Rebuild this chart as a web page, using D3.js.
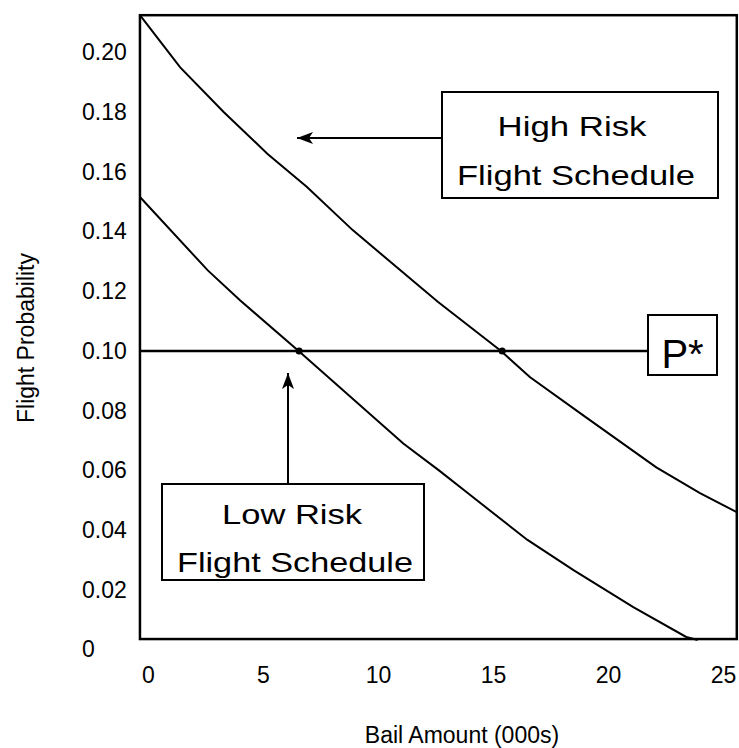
<!DOCTYPE html>
<html>
<head>
<meta charset="utf-8">
<script src="https://cdn.jsdelivr.net/npm/d3@7"></script>
<style>
  body { margin: 0; background: #fff; }
  svg { font-family: "Liberation Sans", Arial, sans-serif; }
</style>
</head>
<body>
<div id="chart"></div>
<script>
// Values
var highX = [-0.35, 1.4, 3.3, 5.2, 6.9, 8.9, 12.6, 15.35, 16.6, 19.0, 22.1, 24.0, 25.6];
var highY = [0.2125, 0.195, 0.180, 0.166, 0.155, 0.1405, 0.1165, 0.100, 0.0913, 0.078, 0.061, 0.0524, 0.046];
var lowX = [-0.35, 2.6, 4.0, 6.55, 11.1, 12.65, 13.9, 16.5, 18.5, 21.1, 23.4, 23.9];
var lowY = [0.1516, 0.127, 0.117, 0.100, 0.069, 0.060, 0.0524, 0.0367, 0.0266, 0.0142, 0.0042, 0.0032];
var pStar = 0.10;
var crossX = [6.57, 15.4];
var xTicks = [0, 5, 10, 15, 20, 25];
var yTicks = [0, 0.02, 0.04, 0.06, 0.08, 0.10, 0.12, 0.14, 0.16, 0.18, 0.20];
var yTickLabels = ["0", "0.02", "0.04", "0.06", "0.08", "0.10", "0.12", "0.14", "0.16", "0.18", "0.20"];

var width = 739, height = 748;
var frame = {x0: -0.35, x1: 25.6, y0: 0.0035, y1: 0.2125};

var svg = d3.select("#chart")
  .append("svg")
    .attr("width", width)
    .attr("height", height);

// scales
var x = d3.scaleLinear().domain([0, 25]).range([148, 723]);
var y = d3.scaleLinear().domain([0, 0.2]).range([649.5, 52.5]);

var high = highX.map(function(d, i) { return {x: d, y: highY[i]}; });
var low = lowX.map(function(d, i) { return {x: d, y: lowY[i]}; });

// arrow head
svg.append("defs").append("marker")
    .attr("id", "head")
    .attr("viewBox", "0 0 16 12")
    .attr("refX", 16)
    .attr("refY", 6)
    .attr("markerWidth", 16)
    .attr("markerHeight", 12)
    .attr("markerUnits", "userSpaceOnUse")
    .attr("orient", "auto")
  .append("path")
    .attr("d", "M0,0 L16,6 L0,12 L4,6 Z")
    .attr("fill", "#000");

// frame
svg.append("rect")
    .attr("x", x(frame.x0))
    .attr("y", y(frame.y1))
    .attr("width", x(frame.x1) - x(frame.x0))
    .attr("height", y(frame.y0) - y(frame.y1))
    .attr("fill", "none")
    .attr("stroke", "#000")
    .attr("stroke-width", 2.5);

// axes
var xAxis = svg.append("g")
    .attr("transform", "translate(0," + y(frame.y0) + ")")
    .call(d3.axisBottom(x).tickValues(xTicks).tickSize(0).tickPadding(28));
var yAxis = svg.append("g")
    .attr("transform", "translate(" + x(frame.x0) + ",0)")
    .call(d3.axisLeft(y).tickValues(yTicks).tickSize(0)
      .tickFormat(function(d, i) { return yTickLabels[i]; }));
svg.selectAll(".domain").remove();
xAxis.selectAll("text")
    .attr("font-size", "23px")
    .attr("font-family", "Liberation Sans, Arial, sans-serif")
    .attr("fill", "#000");
yAxis.selectAll("text")
    .attr("x", -58)
    .attr("text-anchor", "start")
    .attr("font-size", "23px")
    .attr("font-family", "Liberation Sans, Arial, sans-serif")
    .attr("fill", "#000");

// curves
var line = d3.line()
    .x(function(d) { return x(d.x); })
    .y(function(d) { return y(d.y); });
[high, low].forEach(function(s) {
  svg.append("path")
      .datum(s)
      .attr("fill", "none")
      .attr("stroke", "#000")
      .attr("stroke-width", 2)
      .attr("d", line);
});

// P* line and box
var pBox = {x: 648, y: 315, w: 69, h: 60};
svg.append("line")
    .attr("x1", x(frame.x0))
    .attr("x2", pBox.x)
    .attr("y1", y(pStar))
    .attr("y2", y(pStar))
    .attr("stroke", "#000")
    .attr("stroke-width", 2.5);
svg.append("rect")
    .attr("x", pBox.x).attr("y", pBox.y)
    .attr("width", pBox.w).attr("height", pBox.h)
    .attr("fill", "#fff").attr("stroke", "#000").attr("stroke-width", 2);
svg.append("text")
    .attr("x", pBox.x + pBox.w / 2)
    .attr("y", 368)
    .attr("text-anchor", "middle")
    .attr("font-size", "40px")
    .text("P*");

// intersection dots
svg.selectAll(".dot")
  .data(crossX)
  .enter()
  .append("circle")
    .attr("cx", function(d) { return x(d); })
    .attr("cy", y(pStar))
    .attr("r", 3.5)
    .attr("fill", "#000");

// label boxes
function labelBox(b, lines) {
  svg.append("rect")
      .attr("x", b.x).attr("y", b.y)
      .attr("width", b.w).attr("height", b.h)
      .attr("fill", "#fff").attr("stroke", "#000").attr("stroke-width", 2);
  lines.forEach(function(l) {
    svg.append("text")
        .attr("x", l.cx)
        .attr("y", l.y)
        .attr("text-anchor", "middle")
        .attr("font-size", "28px")
        .attr("textLength", l.len)
        .attr("lengthAdjust", "spacingAndGlyphs")
        .text(l.t);
  });
}
labelBox({x: 442, y: 92, w: 276, h: 106}, [
  {t: "High Risk", cx: 572, y: 136, len: 149},
  {t: "Flight Schedule", cx: 576, y: 185, len: 238}
]);
labelBox({x: 162, y: 484, w: 262, h: 96}, [
  {t: "Low Risk", cx: 292, y: 524, len: 140},
  {t: "Flight Schedule", cx: 295, y: 572, len: 236}
]);

// arrows
svg.append("line")
    .attr("x1", 442).attr("y1", 138)
    .attr("x2", 297).attr("y2", 138)
    .attr("stroke", "#000").attr("stroke-width", 2)
    .attr("marker-end", "url(#head)");
svg.append("line")
    .attr("x1", 288).attr("y1", 484)
    .attr("x2", 288).attr("y2", 373)
    .attr("stroke", "#000").attr("stroke-width", 2)
    .attr("marker-end", "url(#head)");

// axis titles
svg.append("text")
    .attr("x", 462)
    .attr("y", 743)
    .attr("text-anchor", "middle")
    .attr("font-size", "23px")
    .text("Bail Amount (000s)");
svg.append("text")
    .attr("transform", "translate(34,338) rotate(-90)")
    .attr("text-anchor", "middle")
    .attr("font-size", "23px")
    .text("Flight Probability");
</script>
</body>
</html>
